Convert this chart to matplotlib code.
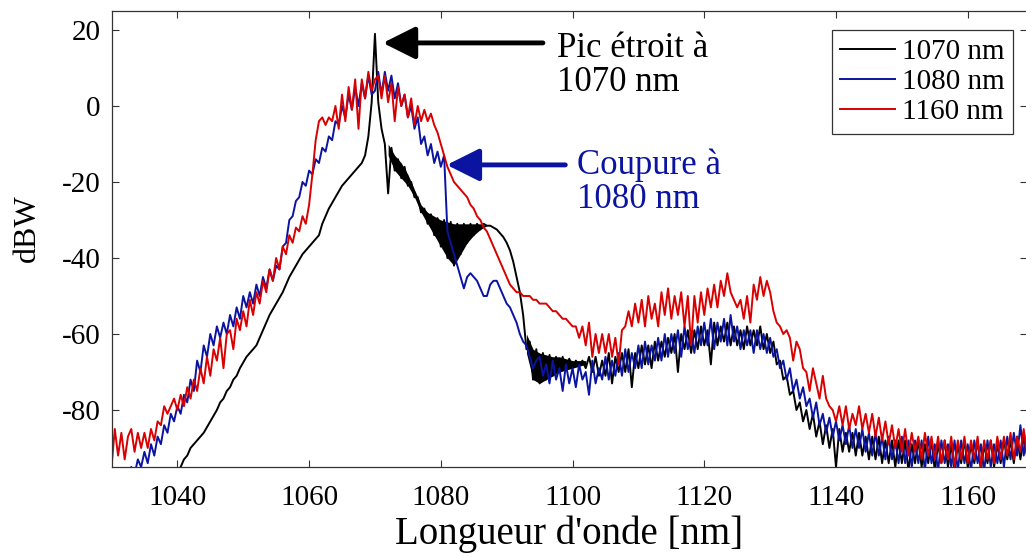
import numpy as np
import matplotlib
matplotlib.use("Agg")
import matplotlib.pyplot as plt

# Longueurs d'onde (nm), pas de 0.5 nm
longueur_onde = np.arange(1030, 1170.01, 0.5)

# Spectre avec pic etroit a 1070 nm (dBW)
spectre_1070 = [
    -118, -117, -116, -115, -114, -113, -112, -111, -110, -109,
    -108, -107, -106, -105, -104, -102, -101, -100, -99, -97,
    -96, -95, -93, -92, -90, -89, -88, -87, -86, -84.5,
    -83, -81.5, -80, -78, -77, -75, -74, -72, -71, -69,
    -67.5, -66, -65, -64, -63, -61, -59, -57, -55, -53.5,
    -52, -50.5, -49, -47, -45, -43.5, -42, -40.5, -39, -38,
    -37, -36, -35, -34, -31, -29, -27, -25.5, -24, -22.5,
    -21, -20, -19, -18, -17, -16, -15, -13, -8, 1,
    19, 1, -6, -10, -23, -11, -17, -14, -19, -16,
    -21, -20, -24, -24, -28, -27, -31, -28.5, -34, -29.5,
    -37, -30, -40, -30.5, -42, -31, -39, -31, -36, -31,
    -34, -31, -32.5, -31, -31.5, -31.5, -32, -32.5, -33.5, -34.5,
    -36, -38, -41, -45, -49, -55, -64, -62, -72, -64,
    -73, -65, -72, -65.5, -71, -66, -70, -66, -69.5, -66.5,
    -69, -67, -68.5, -67, -69, -66, -70, -66, -71, -67,
    -71, -65, -73, -66, -70, -65, -70, -64, -74, -65,
    -69, -63, -68, -63, -69, -62, -67, -62, -66, -61,
    -65, -60, -70, -60, -64, -59, -65, -59, -64, -58,
    -63, -59, -68, -57, -63, -58, -62, -57, -63, -58,
    -63, -59, -64, -58, -63, -59, -63, -58, -64, -60,
    -65, -62, -68, -67, -72, -71, -76, -75, -80, -78,
    -83, -80, -85, -81, -87, -83, -89, -84, -90, -85,
    -95, -85, -91, -86, -91, -86, -92, -86, -92, -87,
    -93, -87, -93, -87, -94, -88, -94, -88, -95, -88,
    -94, -88, -96, -89, -94, -88, -95, -89, -94, -88,
    -96, -89, -94, -88, -95, -89, -96, -89, -94, -88,
    -95, -89, -94, -88, -96, -89, -94, -88, -95, -89,
    -94, -88, -93, -88, -94, -87, -93, -87, -92, -87,
    -89,
]

# Spectre avec coupure a 1080 nm (dBW)
spectre_1080 = [
    -100, -100, -99, -99, -98, -97, -95, -97, -93, -95,
    -91, -94, -89, -92, -87, -89, -84, -86, -81, -83,
    -79, -81, -76, -78, -72, -75, -67, -70, -63, -66,
    -60, -63, -58, -61, -57, -60, -55, -58, -53, -56,
    -50, -53, -49, -52, -47, -50, -45, -48, -43, -46,
    -42, -43, -37, -36, -30, -29, -25, -24, -20, -21,
    -17, -18, -14, -15, -11, -12, -8, -9, -4, -5,
    0, -3, 3, -1, 5, 0, 6, 2, 8, 3,
    4, 9, 3, 9, 4, 8, 2, 6, 0, 3,
    -3, 0, -6, -3, -10, -8, -13, -10, -15, -12,
    -16, -13, -33, -36, -39, -42, -45, -48, -45, -44,
    -45, -46, -48, -50, -50, -47, -46, -46, -48, -50,
    -52, -53, -55, -57, -60, -62, -63, -66, -69, -67,
    -66, -71, -68, -73, -67, -72, -69, -75, -68, -73,
    -69, -74, -68, -72, -70, -76, -67, -73, -69, -72,
    -66, -72, -67, -71, -65, -71, -64, -70, -65, -69,
    -63, -69, -62, -68, -63, -67, -61, -67, -60, -66,
    -60, -65, -59, -66, -58, -64, -60, -65, -58, -63,
    -57, -63, -56, -64, -57, -62, -56, -63, -55, -62,
    -58, -64, -59, -63, -59, -65, -59, -64, -60, -65,
    -61, -66, -64, -69, -67, -72, -69, -75, -72, -77,
    -74, -79, -77, -82, -78, -84, -81, -86, -82, -87,
    -83, -88, -84, -89, -84, -90, -85, -90, -85, -91,
    -86, -92, -86, -92, -87, -93, -87, -93, -88, -94,
    -87, -94, -88, -95, -88, -94, -88, -96, -87, -94,
    -89, -96, -88, -94, -89, -95, -88, -96, -88, -94,
    -89, -96, -88, -94, -89, -96, -88, -95, -89, -94,
    -88, -95, -87, -93, -86, -92, -84, -92, -86, -91,
    -88,
]

# Spectre 1160 nm (dBW)
spectre_1160 = [
    -95, -85, -92, -86, -93, -87, -85, -91, -86, -90,
    -86, -90, -85, -88, -83, -84, -79, -81, -79, -77,
    -80, -76, -79, -74, -77, -72, -75, -69, -73, -66,
    -71, -64, -67, -61, -69, -60, -59, -64, -56, -59,
    -54, -58, -51, -55, -49, -52, -46, -49, -43, -46,
    -40, -43, -37, -39, -34, -36, -32, -33, -29, -31,
    -26, -18, -9, -4, -3, -5, -3, -4, 0, -6,
    3, -4, 5, -1, 7, -6, 7, 2, 9, 4,
    7, 8, 2, 8, 1, 6, -4, 5, 0, 3,
    -3, 2, -5, 0, -4, -1, -4, -2, -5, -7,
    -10, -13, -16, -18, -20, -21, -22, -23, -24, -26,
    -27, -29, -30, -32, -33, -35, -37, -39, -41, -43,
    -45, -47, -48, -49, -49, -50, -50, -50, -51, -51,
    -52, -52, -52, -53, -54, -54, -55, -56, -56, -57,
    -58, -58, -61, -58, -63, -57, -66, -60, -65, -60,
    -65, -60, -66, -61, -68, -59, -58, -54, -58, -52,
    -57, -51, -58, -50, -56, -52, -58, -49, -55, -48,
    -56, -50, -55, -49, -58, -50, -63, -50, -57, -49,
    -55, -48, -53, -47, -53, -46, -50, -44, -49, -51,
    -53, -51, -56, -50, -57, -47, -51, -45, -50, -46,
    -49, -54, -57, -58, -60, -59, -61, -67, -62, -64,
    -69, -70, -75, -69, -73, -77, -71, -77, -79, -80,
    -83, -79, -84, -79, -85, -81, -84, -79, -85, -81,
    -86, -81, -87, -82, -88, -83, -89, -84, -90, -85,
    -91, -85, -92, -86, -91, -87, -93, -86, -92, -87,
    -93, -87, -94, -88, -93, -87, -95, -88, -93, -87,
    -94, -88, -93, -87, -95, -88, -93, -88, -94, -87,
    -93, -87, -92, -86, -93, -87, -91, -85, -92, -87,
    -89,
]

# Enveloppes de l'oscillation du spectre 1070 nm
bande_x = [1072, 1073, 1074, 1075, 1076, 1077, 1078, 1079, 1080, 1081,
           1082, 1083, 1084, 1085, 1086, 1087]
bande_haut = [-10, -13, -15, -18, -22, -26, -28, -29, -30, -30.5,
              -31, -31, -31, -31, -31, -31.5]
bande_bas = [-13, -17, -19, -21, -24, -28, -31, -34, -37, -40,
             -42, -39, -36, -34, -32.5, -31.5]
bande2_x = [1093, 1094, 1095, 1096, 1097, 1098, 1099, 1100, 1101, 1102]
bande2_haut = [-60, -64, -65, -65.5, -66, -66, -66.5, -67, -67, -67]
bande2_bas = [-65, -72, -73, -72, -71, -70, -69.5, -69, -68.5, -68]

noms = ['1070 nm', '1080 nm', '1160 nm']
couleurs = ['#000000', '#0a14a0', '#d80000']

plt.rcParams['font.family'] = ['Liberation Serif', 'DejaVu Serif']
plt.rcParams['axes.unicode_minus'] = False

fig = plt.figure(figsize=(10.26, 5.56), dpi=100)
ax = fig.add_axes([111.5 / 1026, 1 - 467 / 556, (1027 - 111.5) / 1026, 456 / 556])

ax.fill_between(bande_x, bande_bas, bande_haut, color='black', lw=0)
ax.fill_between(bande2_x, bande2_bas, bande2_haut, color='black', lw=0)
for y, nom, c in zip([spectre_1070, spectre_1080, spectre_1160], noms, couleurs):
    ax.plot(longueur_onde, y, color=c, lw=1.4, label=nom)

ax.set_xlim(1030, 1169)
ax.set_ylim(-95, 25)
ax.set_xticks(np.arange(1040, 1161, 20))
ax.set_yticks(np.arange(-80, 21, 20))
ax.tick_params(direction='in', length=5, width=0.8, top=True, right=True,
               labelsize=21, color='#333333')
ax.tick_params(axis='x', pad=13)
ax.tick_params(axis='y', pad=8)
for s in ax.spines.values():
    s.set_color('#333333')
    s.set_linewidth(0.9)

ax.set_xlabel("Longueur d'onde [nm]", fontsize=28, labelpad=3)
ax.set_ylabel('dBW', fontsize=23)
ax.yaxis.set_label_coords(-0.076, 0.524)

leg = ax.legend(loc='upper right', bbox_to_anchor=(1013 / 1026, 1 - 30 / 556),
                bbox_transform=fig.transFigure, borderaxespad=0, fontsize=21,
                fancybox=False, framealpha=1, edgecolor='#333333',
                handlelength=1.86, handletextpad=0.24, labelspacing=0.12,
                borderpad=0.3)
leg.get_frame().set_linewidth(0.9)

# fleches et textes
ax.annotate('', xy=(1071.2, 16.6), xytext=(1095.5, 16.6),
            arrowprops=dict(arrowstyle='-|>,head_length=0.9,head_width=0.45',
                            color='black', lw=3.5, mutation_scale=22,
                            shrinkA=0, shrinkB=0))
ax.text(1097.6, 19.5, 'Pic étroit à\n1070 nm', fontsize=25, va='top',
        ha='left', linespacing=1.05)
ax.annotate('', xy=(1080.9, -15.5), xytext=(1098.9, -15.5),
            arrowprops=dict(arrowstyle='-|>,head_length=0.9,head_width=0.45',
                            color='#0a14a0', lw=3.5, mutation_scale=22,
                            shrinkA=0, shrinkB=0))
ax.text(1100.7, -11.1, 'Coupure à\n1080 nm', fontsize=25, va='top',
        ha='left', linespacing=1.05, color='#0a14a0')

fig.savefig('out.png', dpi=100)
